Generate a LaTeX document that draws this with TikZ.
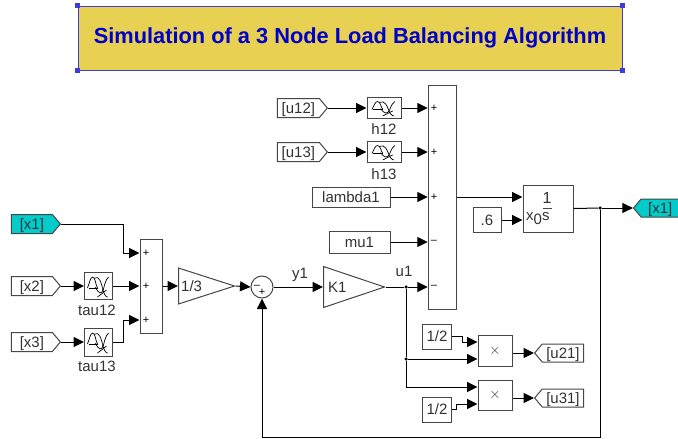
\documentclass[tikz,border=0pt]{standalone}
\usepackage{fontspec}
\setmainfont{Liberation Sans}
\usetikzlibrary{arrows.meta,positioning,shapes.geometric,shapes.symbols}
\definecolor{titlefill}{RGB}{232,208,82}
\definecolor{titleblue}{RGB}{0,0,200}
\definecolor{handleblue}{RGB}{60,60,220}
\definecolor{gototeal}{RGB}{0,204,204}
\definecolor{blockline}{RGB}{70,70,70}
\definecolor{blocktext}{RGB}{50,50,50}
\tikzset{every node/.append style = {font=\fontsize{15}{17}\selectfont, text=blocktext, inner sep=0pt}}
\tikzset{block/.style = {draw=blockline, line width=1pt, fill=white, rectangle}}
\tikzset{goto/.style = {draw=blockline, line width=1pt, fill=white, signal, signal from=nowhere,
  minimum width=49pt, minimum height=19pt, signal pointer angle=100, text height=10pt, text depth=0pt}}
\tikzset{gain/.style = {draw=blockline, line width=1pt, fill=white, isosceles triangle,
  isosceles triangle stretches, minimum width=36pt, minimum height=56pt, anchor=lower side}}
\tikzset{wire/.style = {line width=1pt, -{Triangle[length=10.5pt,width=10pt]}, black}}
\tikzset{plainwire/.style = {line width=1pt, black}}
\tikzset{dot/.style = {circle, fill=black, minimum size=3.5pt}}
\tikzset{sign/.style = {font=\fontsize{11}{11}\selectfont, text=black}}
\tikzset{handle/.style = {fill=handleblue, minimum size=5pt, rectangle}}
\tikzset{delayicon/.pic = {
  \draw[black, line width=0.7pt] (-11,2) .. controls (-9,-3) and (-8,-9) .. (-6,-9) .. controls (-3,-9) and (-3,-1) .. (-1,2);
  \draw[black, line width=0.7pt] (-10,2) -- (-1,2);
  \draw[black, line width=0.7pt] (-4,-8) .. controls (1,-11) and (3,-2) .. (4,2) .. controls (5,7) and (7,11) .. (9,11);
  \draw[black, line width=0.7pt] (-3,1) .. controls (0,8) and (3,9) .. (5,3) .. controls (6,-1) and (7,-6) .. (10,-9);
  \draw[black, line width=0.7pt] (-1,11) -- (8,4);
}}
\begin{document}
\begin{tikzpicture}[x=1pt,y=-1pt]
  \useasboundingbox (0,0) rectangle (678,439);
  % title
  \node[draw=handleblue, line width=1pt, fill=titlefill, minimum width=544pt, minimum height=64pt,
    font=\fontsize{21.8}{24}\bfseries\selectfont, text=titleblue] (title) at (350,38)
    {Simulation of a 3 Node Load Balancing Algorithm};
  \foreach \corner in {north west, north east, south west, south east}
    \node[handle] (handle \corner) at (title.\corner) {};
  % left inputs
  \node[goto, fill=gototeal, anchor=east] (x1in) at (61,224) {[x1]};
  \node[goto, anchor=east] (x2in) at (61,286) {[x2]};
  \node[goto, anchor=east] (x3in) at (61,342) {[x3]};
  \node[block, minimum width=28pt, minimum height=27pt] (tau12) at (98.5,286) {};
  \node[block, minimum width=28pt, minimum height=28pt] (tau13) at (98.5,342) {};
  \node (tau12l) at (97,310) {tau12};
  \node (tau13l) at (97,366) {tau13};
  \node[block, minimum width=22pt, minimum height=94pt] (sumleft) at (151,286) {};
  \node[gain] (third) at (178,286) {};
  \node[right=3pt of third.lower side] (thirdl) {1/3};
  \node[circle, draw=blockline, line width=1pt, fill=white, minimum size=22pt] (sumc) at (262,287) {};
  \node[gain, minimum width=41pt, minimum height=61pt] (k1) at (323,287) {};
  \node[right=5pt of k1.lower side] (k1l) {K1};
  \node (y1) at (300,275) {y1};
  \node (u1) at (404,271) {u1};
  % top right
  \node[goto, anchor=east, minimum width=50pt] (u12) at (328,108) {[u12]};
  \node[goto, anchor=east, minimum width=50pt] (u13) at (328,152) {[u13]};
  \node[block, minimum width=34pt, minimum height=21pt] (h12) at (384,108) {};
  \node[block, minimum width=34pt, minimum height=21pt] (h13) at (384,152) {};
  \node (h12l) at (384,129) {h12};
  \node (h13l) at (384,174) {h13};
  \node[block, minimum width=78pt, minimum height=20pt] (lambda1) at (351,197) {lambda1};
  \node[block, minimum width=61pt, minimum height=22pt] (mu1) at (359.5,242) {mu1};
  \node[block, minimum width=28.5pt, minimum height=224pt] (sumbig) at (442.5,197) {};
  \node[block, minimum width=28pt, minimum height=25pt] (init) at (487,220) {.6};
  \node[block, minimum width=50pt, minimum height=47pt] (integ) at (548,208.5) {};
  \node[goto, fill=gototeal, anchor=east, signal to=west, minimum width=46pt, minimum height=18pt] (x1out) at (680,208) {[x1]};
  % product blocks
  \node[block, minimum width=28.5pt, minimum height=25pt] (halfa) at (437,336.5) {1/2};
  \node[block, minimum width=28.5pt, minimum height=25pt] (halfb) at (437,409.5) {1/2};
  \node[block, minimum width=34pt, minimum height=31pt] (proda) at (495,350.5) {$\times$};
  \node[block, minimum width=34pt, minimum height=30pt] (prodb) at (495,395) {$\times$};
  \node[goto, anchor=west, signal to=west, minimum width=49pt, minimum height=18pt] (u21) at (534,353) {[u21]};
  \node[goto, anchor=west, signal to=west, minimum width=49pt, minimum height=18pt] (u31) at (534,398) {[u31]};
  % icons
  \pic at (tau12) {delayicon};
  \pic at (tau13) {delayicon};
  \pic[yscale=0.72, xscale=1.1] at (h12) {delayicon};
  \pic[yscale=0.72, xscale=1.1] at (h13) {delayicon};
  % integrator
  \node[font=\fontsize{16}{17}\selectfont] (one) at (547,198) {1};
  \node[anchor=west] (xos) at (526,219) {x\raisebox{-4pt}{0}s};
  \coordinate (bara) at (543,208);
  \coordinate (barb) at (552,208);
  \draw[blockline, line width=0.9pt] (bara) -- (barb);
  % signs
  \foreach \y [count=\i] in {253,286,320}
    \node[sign] (signl\i) at (146,\y) {+};
  \foreach \y/\s [count=\i] in {108/+,152/+,197/+,242/--,287/--}
    \node[sign] (signb\i) at (434,\y) {\s};
  \node[sign] (signca) at (257,287) {--};
  \node[sign] (signcb) at (262,292) {+};
  % wires
  \coordinate (port1) at (sumleft.west |- 0,253);
  \coordinate (port3) at (sumleft.west |- 0,320);
  \coordinate (jtop) at (123,224);
  \coordinate (jtau) at (123,342);
  \draw[wire] (x1in.east) -| (jtop) |- (port1);
  \draw[wire] (x2in.east) -- (tau12.west);
  \draw[wire] (x3in.east) -- (tau13.west);
  \draw[wire] (tau12.east) -- (sumleft.west |- tau12.east);
  \draw[wire] (tau13.east) -- (jtau) |- (port3);
  \draw[wire] (sumleft.east |- third.lower side) -- (third.lower side);
  \draw[wire] (third.apex) -- (sumc.west);
  \draw[wire] (sumc.east) -- (k1.lower side);
  \node[dot] (ju1) at (406,287) {};
  \draw[plainwire] (k1.apex) -- (ju1);
  \draw[wire] (ju1) -- (sumbig.west |- ju1);
  \draw[wire] (u12.east) -- (h12.west);
  \draw[wire] (u13.east) -- (h13.west);
  \draw[wire] (h12.east) -- (sumbig.west |- h12.east);
  \draw[wire] (h13.east) -- (sumbig.west |- h13.east);
  \draw[wire] (lambda1.east) -- (sumbig.west |- lambda1.east);
  \draw[wire] (mu1.east) -- (sumbig.west |- mu1.east);
  \draw[wire] (sumbig.east) -- (integ.west |- sumbig.east);
  \draw[wire] (init.east) -- (integ.west |- init.east);
  \node[dot] (jout) at (600,208) {};
  \draw[plainwire] (integ.east) -- (jout);
  \draw[wire] (jout) -- (x1out.west);
  \coordinate (jlow) at (600,437);
  \draw[wire] (jout) -- (jlow) -| (sumc.south);
  % product wiring
  \node[dot] (jprod) at (406,359) {};
  \coordinate (jprodb) at (406,387);
  \draw[plainwire] (ju1) -- (jprod) -- (jprodb);
  \draw[wire] (jprod) -- (proda.west |- jprod);
  \draw[wire] (jprodb) -- (prodb.west |- jprodb);
  \coordinate (halfaup) at (462,336);
  \coordinate (halfadn) at (462,342);
  \coordinate (halfbdn) at (456,409);
  \coordinate (halfbup) at (456,404);
  \draw[wire] (halfa.east |- halfaup) -- (halfaup) -- (halfadn) -- (proda.west |- halfadn);
  \draw[wire] (halfb.east |- halfbdn) -- (halfbdn) -- (halfbup) -- (prodb.west |- halfbup);
  \draw[wire] (proda.east |- u21.west) -- (u21.west);
  \draw[wire] (prodb.east |- u31.west) -- (u31.west);
\end{tikzpicture}
\end{document}
